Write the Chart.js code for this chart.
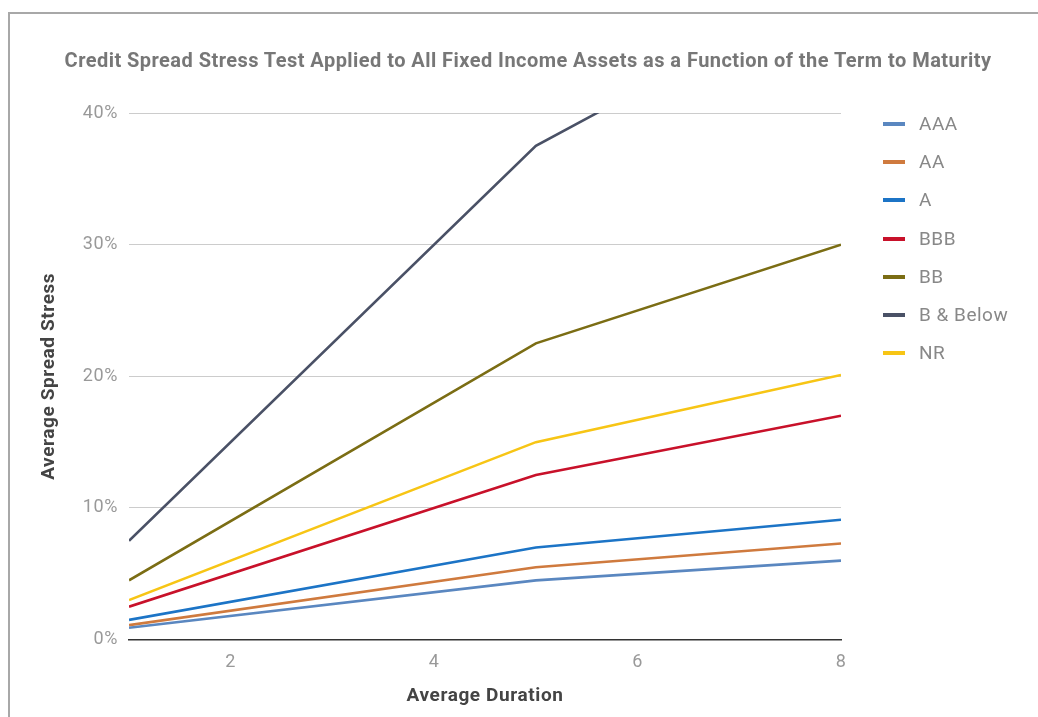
<!DOCTYPE html>
<html>
<head>
<meta charset="utf-8">
<script src="https://cdn.jsdelivr.net/npm/chart.js@4"></script>
<style>
    html, body { margin: 0; padding: 0; background: #fff; }
    #wrap { position: relative; width: 1038px; height: 717px; overflow: hidden; }
    #frame { position: absolute; left: 8px; top: 12px; width: 1100px; height: 800px;
             border-top: 2px solid #a8a8a8; border-left: 2px solid #a8a8a8; }
    canvas { position: absolute; left: 0; top: 0; }
    #title { position: absolute; left: 0; top: 47px; width: 1056px; text-align: center;
             font-family: Roboto, sans-serif; font-weight: bold; font-size: 20px; letter-spacing: 0.45px;
             line-height: 26px; color: #777; white-space: nowrap; }
    #legend { position: absolute; left: 883px; top: 105px; margin: 0; padding: 0; list-style: none;
              font-family: Roboto, sans-serif; font-size: 19px; letter-spacing: 0.5px; color: #888; }
    #legend li { position: relative; height: 38.2px; line-height: 38.2px; padding-left: 36px; white-space: nowrap; }
    #legend li span { position: absolute; left: 0; top: 17px; width: 22px; height: 4px; }
</style>
</head>
<body>
<div id="wrap">
    <div id="frame"></div>
    <canvas id="chart" width="1038" height="717"></canvas>
    <div id="title"></div>
    <ul id="legend"></ul>
</div>
<script>
const chartTitle = 'Credit Spread Stress Test Applied to All Fixed Income Assets as a Function of the Term to Maturity';

// Average duration (years) at which each rating bucket is stressed
const durations = [1, 5, 8];

// Average spread stress, %
const aaa = [0.9, 4.5, 6.0];
const aa = [1.1, 5.5, 7.3];
const singleA = [1.5, 7.0, 9.1];
const bbb = [2.5, 12.5, 17.0];
const bb = [4.5, 22.5, 30.0];
const bAndBelow = [7.5, 37.5, 50.0];
const nr = [3.0, 15.0, 20.1];

const xTicks = [2, 4, 6, 8];
const yTicks = [0, 10, 20, 30, 40];

const series = [
    { label: 'AAA', values: aaa, color: '#5a87c0' },
    { label: 'AA', values: aa, color: '#cf7a3e' },
    { label: 'A', values: singleA, color: '#1c74c6' },
    { label: 'BBB', values: bbb, color: '#c8112a' },
    { label: 'BB', values: bb, color: '#7b6d14' },
    { label: 'B & Below', values: bAndBelow, color: '#4a5166' },
    { label: 'NR', values: nr, color: '#f7c515' }
];

document.getElementById('title').textContent = chartTitle;

// Leyenda en HTML para poder colocarla como en el original
document.getElementById('legend').innerHTML = series
    .map(s => `<li><span style="background:${s.color}"></span>${s.label}</li>`)
    .join('');

// El original tiene el texto algo más ancho: espaciado entre letras en el canvas
const letterSpacing = {
    id: 'letterSpacing',
    beforeUpdate(chart) { chart.ctx.letterSpacing = '0.6px'; },
    beforeDraw(chart) { chart.ctx.letterSpacing = '0.6px'; }
};

const ctx = document.getElementById('chart').getContext('2d');

new Chart(ctx, {
    type: 'line',
    plugins: [letterSpacing],
    data: {
        datasets: series.map(s => ({
            label: s.label,
            data: s.values.map((v, i) => ({ x: durations[i], y: v })),
            borderColor: s.color,
            backgroundColor: s.color,
            borderWidth: 2.6,
            pointRadius: 0,
            tension: 0
        }))
    },
    options: {
        responsive: false,
        animation: false,
        layout: {
            padding: { left: 34, right: 197, top: 113, bottom: 5 }
        },
        plugins: {
            legend: { display: false },
            tooltip: { enabled: false }
        },
        scales: {
            x: {
                type: 'linear',
                min: 1,
                max: 8,
                afterBuildTicks: axis => { axis.ticks = xTicks.map(v => ({ value: v })); },
                grid: { display: false, drawTicks: false },
                border: { color: '#333', width: 1.5 },
                ticks: {
                    color: '#999',
                    padding: 12,
                    font: { family: 'Roboto', size: 18 }
                },
                title: {
                    display: true,
                    text: 'Average Duration',
                    color: '#444',
                    font: { family: 'Roboto', size: 19, weight: 'bold' },
                    padding: { top: 0 }
                }
            },
            y: {
                min: 0,
                max: 40,
                afterBuildTicks: axis => { axis.ticks = yTicks.map(v => ({ value: v })); },
                grid: { color: '#cccccc', drawTicks: false },
                border: { display: false },
                ticks: {
                    color: '#999',
                    padding: 11,
                    font: { family: 'Roboto', size: 18 },
                    callback: v => v + '%'
                },
                title: {
                    display: true,
                    text: 'Average Spread Stress',
                    color: '#444',
                    font: { family: 'Roboto', size: 19, weight: 'bold' },
                    padding: { bottom: 11 }
                }
            }
        }
    }
});
</script>
</body>
</html>
